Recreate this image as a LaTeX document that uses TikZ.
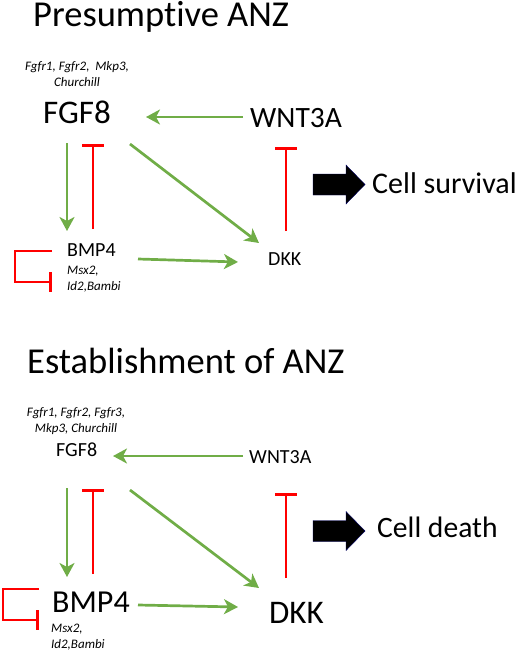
\documentclass[tikz,border=0pt]{standalone}
\usepackage{fontspec}
\setmainfont[Ligatures=NoCommon]{Carlito}
\usetikzlibrary{arrows.meta}
\definecolor{actgreen}{HTML}{70AD47}
\definecolor{inhred}{HTML}{FF0000}
\tikzset{
  lbl/.style={anchor=base west,inner sep=0pt,text=black},
  gene/.style={align=center,inner sep=0pt,font=\fontsize{13}{15.5}\selectfont\itshape,anchor=base},
  genel/.style={align=left,inner sep=0pt,font=\fontsize{13}{16}\selectfont\itshape,anchor=base west},
  act/.style={draw=actgreen,line width=2.7pt,-{Stealth[length=14pt,width=15pt,inset=4pt]}},
  inh/.style={draw=inhred,line width=2.6pt,-{Bar[width=22pt,line width=2.6pt]}},
  inhs/.style={draw=inhred,line width=2.6pt,-{Bar[width=20pt,line width=2.6pt]}},
  blockarrow/.style={fill=black,draw=black!60!blue,line width=0.4pt},
}
\begin{document}
\begin{tikzpicture}[x=1pt,y=-1pt]
\useasboundingbox (0,0) rectangle (526,653);
% ---------------- top panel ----------------
\node[lbl,font=\fontsize{36.5}{42}\selectfont] (t1) at (33,27) {Presumpt\kern0pt ive ANZ};
\node[gene] (g1) at (77,86) {Fgfr1, Fgfr2,\ \ Mkp3,\\Churchill};
\node[lbl,font=\fontsize{33}{40}\selectfont] (fgf1) at (43,123) {FGF8};
\node[lbl,font=\fontsize{29.5}{36}\selectfont] (wnt1) at (250,127) {WNT3A};
\node[lbl,font=\fontsize{20}{24}\selectfont] (bmp1) at (67,256) {BMP4};
\node[genel] (m1) at (67,290) {Msx2,\\Id2,Bambi};
\node[lbl,font=\fontsize{20}{24}\selectfont] (dkk1) at (268,265) {DKK};
\path[blockarrow] (313,174) -- (346,174) -- (346,165) -- (365,184.5) -- (346,204) -- (346,195) -- (313,195) -- cycle;
\node[lbl,font=\fontsize{30}{36}\selectfont] (cs) at (372,193) {Cell survival};
\coordinate (a1s) at (243,117); \coordinate (a1e) at (146,117);
\coordinate (a2s) at (67,143);  \coordinate (a2e) at (67,231);
\coordinate (i1s) at (93,229);  \coordinate (i1e) at (93,144);
\coordinate (a3s) at (130,144); \coordinate (a3e) at (259,243);
\coordinate (a4s) at (138,259); \coordinate (a4e) at (238,262);
\coordinate (i2s) at (286,231); \coordinate (i2e) at (286,147);
\coordinate (s1a) at (52,251);  \coordinate (s1b) at (15,251);
\coordinate (s1c) at (15,282);  \coordinate (s1d) at (52,282);
\draw[act] (a1s) -- (a1e);
\draw[act] (a2s) -- (a2e);
\draw[inh] (i1s) -- (i1e);
\draw[act] (a3s) -- (a3e);
\draw[act] (a4s) -- (a4e);
\draw[inh] (i2s) -- (i2e);
\draw[inhs] (s1a) -- (s1b) -- (s1c) -- (s1d);
% ---------------- bottom panel ----------------
\node[lbl,font=\fontsize{36.5}{42}\selectfont] (t2) at (27,373) {Establishment of ANZ};
\node[gene] (g2) at (76,432) {Fgfr1, Fgfr2, Fgfr3,\\Mkp3, Churchill};
\node[lbl,font=\fontsize{20}{24}\selectfont] (fgf2) at (56,456) {FGF8};
\node[lbl,font=\fontsize{20}{24}\selectfont] (wnt2) at (249,463) {WNT3A};
\node[lbl,font=\fontsize{32}{38}\selectfont] (bmp2) at (52,612) {BMP4};
\node[genel] (m2) at (51,648) {Msx2,\\Id2,Bambi};
\node[lbl,font=\fontsize{33}{40}\selectfont] (dkk2) at (269,623) {DKK};
\path[blockarrow] (313,520.5) -- (346,520.5) -- (346,511.5) -- (365,531) -- (346,550.5) -- (346,541.5) -- (313,541.5) -- cycle;
\node[lbl,font=\fontsize{29.6}{36}\selectfont] (cd) at (377,537) {Cell death};
\coordinate (b1s) at (243,456); \coordinate (b1e) at (113,456);
\coordinate (b2s) at (67,488);  \coordinate (b2e) at (67,577);
\coordinate (j1s) at (93,574);  \coordinate (j1e) at (93,489);
\coordinate (b3s) at (130,490); \coordinate (b3e) at (259,588);
\coordinate (b4s) at (138,605); \coordinate (b4e) at (238,607);
\coordinate (j2s) at (286,578); \coordinate (j2e) at (286,493);
\coordinate (s2a) at (39,589);  \coordinate (s2b) at (3,589);
\coordinate (s2c) at (3,620);   \coordinate (s2d) at (39,620);
\draw[act] (b1s) -- (b1e);
\draw[act] (b2s) -- (b2e);
\draw[inh] (j1s) -- (j1e);
\draw[act] (b3s) -- (b3e);
\draw[act] (b4s) -- (b4e);
\draw[inh] (j2s) -- (j2e);
\draw[inhs] (s2a) -- (s2b) -- (s2c) -- (s2d);
\end{tikzpicture}
\end{document}
